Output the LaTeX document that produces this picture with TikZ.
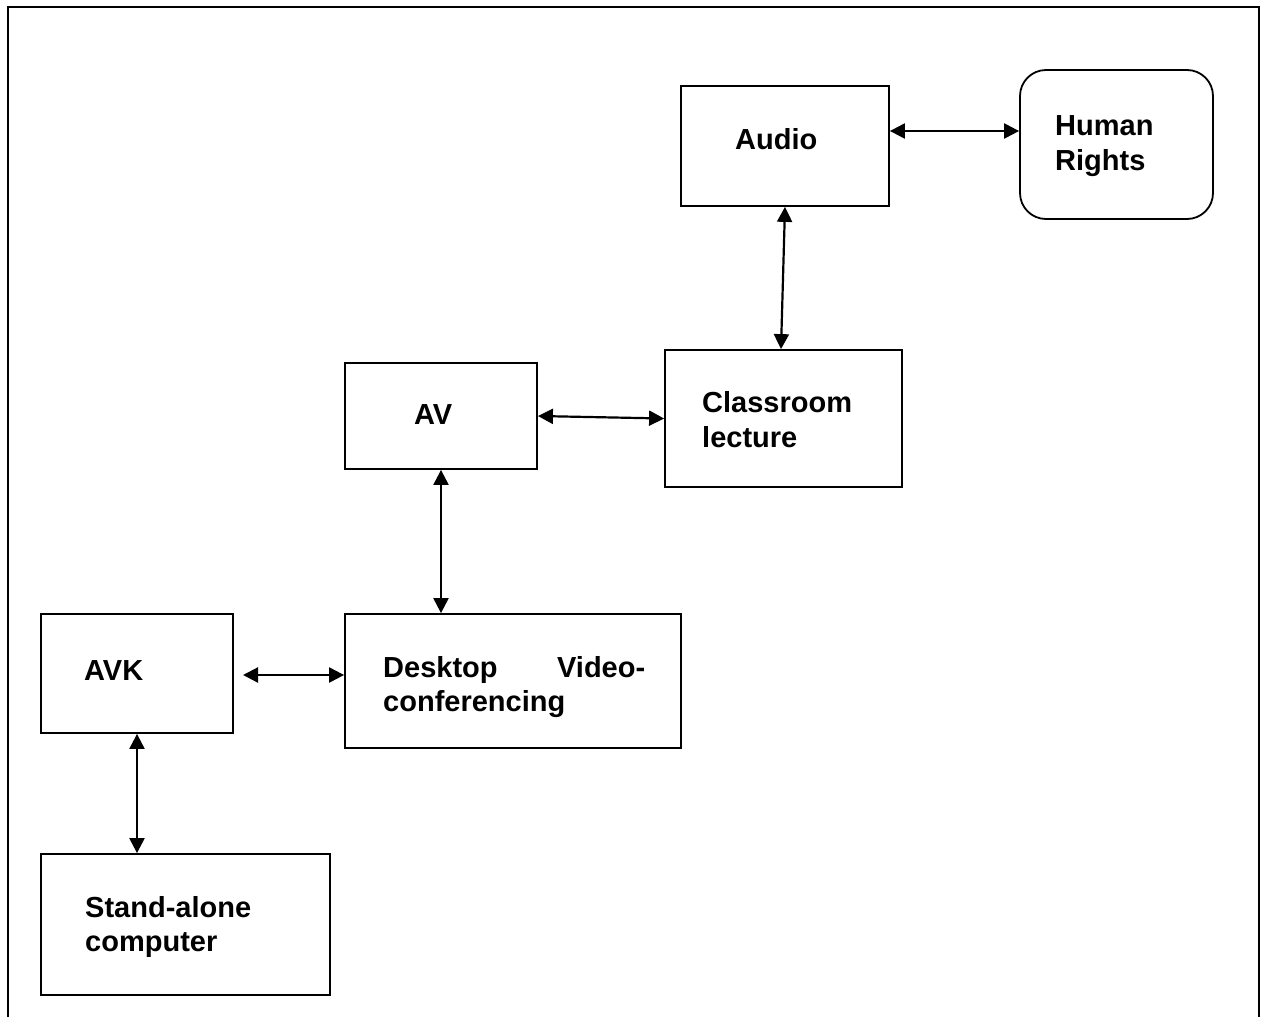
\documentclass[tikz,border=0pt]{standalone}
\usepackage{fontspec}
\setmainfont{Liberation Sans}
\usetikzlibrary{arrows.meta}
\begin{document}
\begin{tikzpicture}[x=1pt,y=-1pt,
  box/.style={draw, line width=1.8pt, inner sep=0pt, rectangle},
  rbox/.style={box, rounded corners=26pt},
  lbl/.style={anchor=base west, inner sep=0pt, font=\fontsize{29}{35}\bfseries\selectfont},
  link/.style={line width=2.2pt, {Triangle[length=15pt,width=15pt]}-{Triangle[length=15pt,width=15pt]}}]
\useasboundingbox (0,0) rectangle (1261,1017);
% outer frame (open at the bottom)
\draw[line width=2pt] (8,1017) -- (8,7) -- (1259,7) -- (1259,1017);
% boxes
\node[box, minimum width=208pt, minimum height=120pt] (audio) at (785,146) {};
\node[rbox, minimum width=193pt, minimum height=149pt] (hr) at (1116.5,144.5) {};
\node[box, minimum width=237pt, minimum height=137pt] (cl) at (783.5,418.5) {};
\node[box, minimum width=192pt, minimum height=106pt] (av) at (441,416) {};
\node[box, minimum width=336pt, minimum height=134pt] (dv) at (513,681) {};
\node[box, minimum width=192pt, minimum height=119pt] (avk) at (137,673.5) {};
\node[box, minimum width=289pt, minimum height=141pt] (sa) at (185.5,924.5) {};
% texts
\node[lbl] (taudio) at (735,149.5) {Audio};
\node[lbl] (thr1) at (1055,135.5) {Human};
\node[lbl] (thr2) at (1055,170.5) {Rights};
\node[lbl] (tcl1) at (702,412.5) {Classroom};
\node[lbl] (tcl2) at (702,447.5) {lecture};
\node[lbl] (tav) at (414,424.5) {AV};
\node[lbl] (tdv1) at (383,677) {\makebox[262pt][s]{Desktop Video-}};
\node[lbl] (tdv2) at (383,711) {conferencing};
\node[lbl] (tavk) at (84,680) {AVK};
\node[lbl] (tsa1) at (85,917) {Stand-alone};
\node[lbl] (tsa2) at (85,951) {computer};
% connectors
\coordinate (avkout) at (243,675);
\draw[link] (audio.east |- 0,131) -- (hr.west |- 0,131);
\draw[link] (audio.south) -- ([xshift=-2.5pt]cl.north);
\draw[link] (av.east) -- (cl.west);
\draw[link] (av.south) -- (av.south |- dv.north);
\draw[link] (avkout) -- (dv.west |- avkout);
\draw[link] (avk.south) -- (avk.south |- sa.north);
\end{tikzpicture}
\end{document}
